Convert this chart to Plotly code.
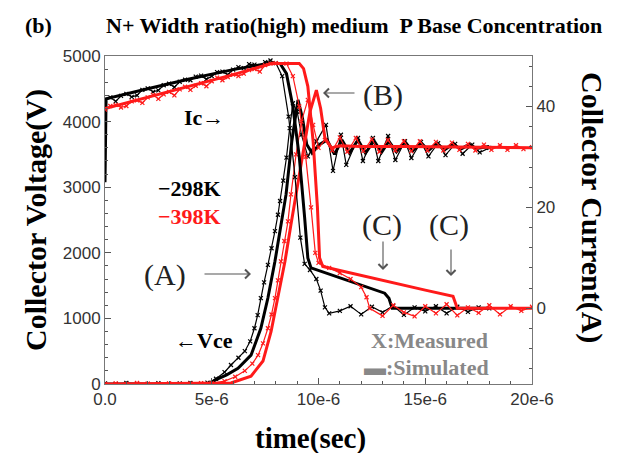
import plotly.graph_objects as go

# times in microseconds
bm_vce_t = [0, 0.5, 1, 1.5, 2, 2.5, 3, 3.5, 4, 4.5, 4.8, 5.2, 5.6, 5.9, 6.25, 6.55, 6.8, 7.0, 7.15, 7.3,
            7.45, 7.63, 7.8, 7.96, 8.1, 8.2, 8.35, 8.5, 8.65, 8.8, 9.0, 9.2, 9.5, 9.9, 10.35, 10.68, 11.05,
            11.3, 11.85, 12.08, 12.55, 12.8, 13.26, 13.6, 14.05, 14.35, 14.8, 15.15, 15.6, 15.95, 16.4,
            16.75, 17.2, 17.55, 18.0]
bm_vce = [10, 0, 15, 5, 0, 12, 0, 8, 15, 5, 20, 80, 180, 290, 400, 500, 650, 850, 1050, 1310,
          1550, 1815, 2070, 2330, 2580, 2790, 3100, 3450, 3900, 4280, 4150, 3800, 3470, 3700, 3950, 3250, 3800,
          3340, 3750, 3400, 3750, 3400, 3780, 3415, 3700, 3445, 3690, 3470, 3670, 3490, 3660,
          3510, 3650, 3530, 3600]

bs_vce_t = [0, 5.0, 5.15, 5.7, 6.23, 6.84, 7.3, 7.63, 7.96, 8.24, 8.48, 8.75, 9.04, 9.25, 9.45, 9.7, 10.0,
            10.4, 10.75, 11.1, 11.45, 11.85, 12.2, 12.6, 12.95, 13.3, 13.65, 14.05, 14.4, 14.8, 15.15, 15.55,
            15.9, 16.3, 16.65, 17.05, 17.4, 18.0]
bs_vce = [0, 0, 60, 140, 240, 440, 850, 1310, 1870, 2430, 2890, 3700, 4330, 4050, 3650, 3520, 3640,
          3720, 3500, 3720, 3520, 3720, 3520, 3710, 3530, 3700, 3540, 3690, 3550, 3680, 3560, 3670,
          3570, 3660, 3580, 3650, 3590, 3620]

rm_vce_t = [0, 0.5, 1, 1.5, 2, 2.5, 3, 3.5, 4, 4.5, 5, 5.6, 6.1, 6.55, 6.9, 7.17, 7.4, 7.63, 7.8, 7.96, 8.1,
            8.24, 8.4, 8.57, 8.71, 8.95, 9.2, 9.5, 9.75, 10.0, 10.3, 10.65, 11.0, 11.35, 11.75, 12.1, 12.5,
            12.85, 13.25, 13.6, 14.0, 14.35, 14.75, 15.1, 15.5, 15.85, 16.25, 16.6, 17.0, 17.35, 17.75,
            18.1, 18.5, 18.85, 19.25, 19.6, 20.0]
rm_vce = [0, 10, 0, 15, 5, 0, 10, 0, 5, 12, 10, 45, 110, 200, 310, 440, 620, 850, 1060, 1310, 1580,
          1870, 2180, 2480, 2890, 3500, 4000, 4330, 3950, 3600, 3720, 3560, 3760, 3540, 3750, 3550, 3730,
          3540, 3720, 3560, 3700, 3550, 3700, 3560, 3690, 3560, 3680, 3570, 3660, 3560, 3650,
          3570, 3640, 3570, 3640, 3580, 3610]

rs_vce_t = [0, 5.9, 6.84, 7.4, 7.78, 8.1, 8.43, 8.71, 8.95, 9.3, 9.6, 9.9, 10.1, 10.3, 10.6, 11, 12, 14,
            16, 18, 20]
rs_vce = [0, 15, 120, 350, 800, 1310, 1870, 2430, 2890, 3600, 4150, 4480, 4200, 3750, 3600, 3630, 3620,
          3620, 3610, 3610, 3600]

bm_ic_t = [0, 0.25, 0.5, 0.75, 1, 1.25, 1.5, 1.75, 2, 2.25, 2.5, 2.75, 3, 3.25, 3.5, 3.75, 4, 4.25, 4.5,
           4.75, 5, 5.25, 5.5, 5.75, 6, 6.25, 6.5, 6.75, 7, 7.25, 7.5, 7.75, 8.0, 8.3, 8.6, 8.9, 9.15,
           9.35, 9.6, 9.9, 10.1, 10.3, 10.5, 11, 11.5, 12, 12.5, 13, 13.5, 14, 14.5, 15, 15.5, 16, 16.5,
           17, 17.5, 18]
bm_ic = [41.2, 41.8, 41.0, 42.1, 42.5, 41.9, 42.2, 43.3, 43.6, 42.9, 43.2, 44.2, 44.5, 43.8, 44.9, 45.3,
         45.2, 45.9, 46.1, 45.4, 46.0, 46.8, 46.9, 46.3, 47.3, 47.8, 47.6, 48.4, 48.3, 48.0, 48.8, 49.1,
         48.6, 46, 38, 26, 14, 8.8, 7.6, 5.8, 3.5, 0.2, -1.0, -0.5, 0.4, -1.2, 0.3, -0.8, 0.5, -1.3, 0.2,
         -0.6, 0.4, -1.0, 0.3, -0.7, 0.2, 0]

bs_ic_t = [0, 0.05, 2, 4, 6, 7.6, 8.2, 8.5, 8.8, 9.1, 9.35, 9.5, 9.65, 10.5, 11.5, 12.5, 13.1, 13.3,
           13.45, 18]
bs_ic = [25, 41.5, 43.5, 45.5, 47.3, 48.5, 48.5, 46.5, 40, 30, 18, 10, 8, 6.8, 5.4, 4, 3, 2, 0, 0]

rm_ic_t = [0, 0.25, 0.5, 0.75, 1, 1.25, 1.5, 1.75, 2, 2.25, 2.5, 2.75, 3, 3.25, 3.5, 3.75, 4, 4.25, 4.5,
           4.75, 5, 5.25, 5.5, 5.75, 6, 6.25, 6.5, 6.75, 7, 7.25, 7.5, 7.75, 8.0, 8.5, 8.8, 9.1, 9.4,
           9.65, 9.85, 10.0, 10.5, 11.0, 11.5, 12.0, 12.25, 12.4, 13, 13.5, 14, 14.5, 15, 15.5, 16, 16.5,
           17, 17.5, 18, 18.5, 19, 19.5, 20]
rm_ic = [39.4, 40.1, 40.3, 39.8, 40.1, 41.0, 41.2, 40.7, 41.8, 42.3, 41.5, 42.4, 42.9, 42.2, 43.4, 43.9,
         43.3, 44.1, 44.6, 44.0, 45.0, 45.7, 45.2, 45.8, 46.3, 46.0, 46.5, 47.2, 47.4, 46.9, 48.2, 48.5,
         48.6, 48.5, 46, 40, 30, 20, 11, 9, 8, 7, 5.8, 4.2, 2.2, 0, -1.5, 0.6, -0.8, -1.6, 0.4, -1.0, 0.8,
         -1.4, 0.2, -0.9, 0.6, -1.2, 0.4, -0.5, 0.3]

rs_ic_t = [0, 2, 4, 6, 7.8, 9.1, 9.3, 9.5, 9.75, 9.95, 10.05, 10.2, 11, 12, 13, 14, 15, 16.3, 16.5, 20]
rs_ic = [39.6, 41.8, 44, 46.3, 48.5, 48.5, 47.5, 44, 33, 20, 10, 8.3, 7.5, 6.5, 5.5, 4.5, 3.6, 2.4, 0, 0]

x_ticks = [0, 5e-6, 10e-6, 15e-6, 20e-6]
x_labels = ["0.0", "5e-6", "10e-6", "15e-6", "20e-6"]

BLACK = "#000000"
RED = "#ff1a1a"
SERIF = "Liberation Serif, Times New Roman, serif"
SANS = "Liberation Sans, Arial, sans-serif"


def us(ts):
    return [t * 1e-6 for t in ts]


def measured(t, v, col, axis):
    return go.Scatter(x=us(t), y=v, yaxis=axis, mode="lines+markers", showlegend=False,
                      line=dict(color=col, width=1.2),
                      marker=dict(symbol="x-thin", size=4, color=col, line=dict(width=1.2, color=col)))


def simulated(t, v, col, axis):
    return go.Scatter(x=us(t), y=v, yaxis=axis, mode="lines", showlegend=False,
                      line=dict(color=col, width=3))


fig = go.Figure()
fig.add_trace(measured(bm_vce_t, bm_vce, BLACK, "y"))
fig.add_trace(measured(bm_ic_t, bm_ic, BLACK, "y2"))
fig.add_trace(simulated(bs_vce_t, bs_vce, BLACK, "y"))
fig.add_trace(simulated(bs_ic_t, bs_ic, BLACK, "y2"))
fig.add_trace(measured(rm_vce_t, rm_vce, RED, "y"))
fig.add_trace(measured(rm_ic_t, rm_ic, RED, "y2"))
fig.add_trace(simulated(rs_vce_t, rs_vce, RED, "y"))
fig.add_trace(simulated(rs_ic_t, rs_ic, RED, "y2"))

axis_common = dict(ticks="inside", ticklen=6, tickcolor="#555", showline=True, linecolor="#777",
                   linewidth=1, showgrid=False, zeroline=False,
                   tickfont=dict(family=SANS, size=17, color="#333"))

fig.update_layout(
    width=619, height=453,
    margin=dict(l=97, r=95, t=48, b=77),
    paper_bgcolor="white", plot_bgcolor="white",
    xaxis=dict(range=[0, 20e-6], tickvals=x_ticks, ticktext=x_labels, mirror=True,
               minor=dict(dtick=1e-6, ticks="inside", ticklen=3, tickcolor="#555"), **axis_common),
    yaxis=dict(range=[0, 5000], dtick=1000,
               minor=dict(dtick=200, ticks="inside", ticklen=3, tickcolor="#555"), **axis_common),
    yaxis2=dict(range=[-15, 50], tickvals=[0, 20, 40], overlaying="y", side="right",
                minor=dict(dtick=4, ticks="inside", ticklen=3, tickcolor="#555"), **axis_common),
)

ann = []


# paper coords from pixel positions in the 619x453 picture
def px(xp, yp):
    return (xp - 97) / 427, (376 - yp) / 328


def ptext(xp, yp, s, size, color=BLACK, bold=True, angle=0):
    x, y = px(xp, yp)
    ann.append(dict(xref="paper", yref="paper", x=x, y=y, xanchor="center", yanchor="middle",
                    text=f"<b>{s}</b>" if bold else s, showarrow=False, textangle=angle,
                    font=dict(family=SERIF, size=size, color=color)))


def arrow(x0, y0, x1, y1):
    x, y = px(x1, y1)
    ann.append(dict(xref="paper", yref="paper", x=x, y=y, ax=x0 - x1, ay=y0 - y1, text="",
                    showarrow=True, arrowhead=4, arrowsize=1.6, arrowwidth=1.1, arrowcolor="#555"))


ptext(30, 17, "(b)", 22)
ptext(346, 17, "N+ Width ratio(high) medium  P Base Concentration", 22)
ptext(28, 212, "Collector Voltage(V)", 30, angle=-90)
ptext(584, 199, "Collector Current(A)", 30, angle=90)
ptext(302, 430, "time(sec)", 29)

ptext(196, 110, "Ic\u2192", 22)
ptext(181, 180, "\u2212298K", 22)
ptext(181, 208, "\u2212398K", 22, color=RED)
ptext(196, 332, "\u2190Vce", 22)
ptext(157, 267, "(A)", 30, bold=False, color="#222")
ptext(375, 87, "(B)", 30, bold=False, color="#222")
ptext(374, 217, "(C)", 30, bold=False, color="#222")
ptext(441, 217, "(C)", 30, bold=False, color="#222")
ptext(421, 332, "X:Measured", 22, color="#888")
ptext(418, 359, "\u25ac:Simulated", 22, color="#888")

arrow(195, 266, 243, 266)
arrow(348, 85, 315, 85)
arrow(375, 232, 375, 262)
arrow(443, 240, 443, 268)

fig.update_layout(annotations=ann)

fig.write_html("out.html")
